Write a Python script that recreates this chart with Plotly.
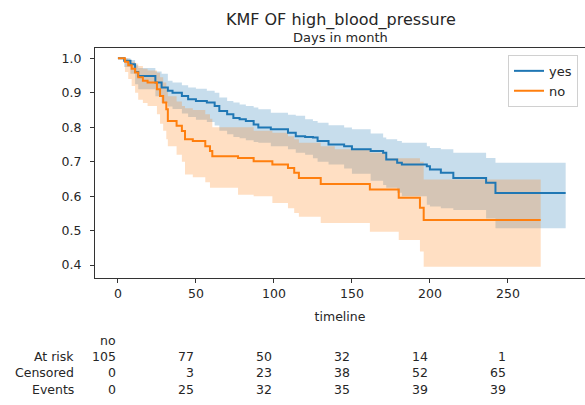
import plotly.graph_objects as go

# ---- data ----
yes_t = [0, 4, 8, 11, 13, 24, 28, 32, 35, 41, 45, 50, 57, 62, 65, 70, 74, 78, 82, 87, 90, 98,
         109, 114, 120, 125, 128, 135, 145, 150, 162, 170, 172, 179, 182, 198, 200, 207, 215,
         236, 242, 287]
yes_s = [1.0, 0.993, 0.983, 0.96, 0.949, 0.93, 0.915, 0.906, 0.90, 0.891, 0.881, 0.876, 0.872,
         0.862, 0.847, 0.838, 0.827, 0.823, 0.818, 0.808, 0.799, 0.794, 0.784, 0.774, 0.772,
         0.770, 0.76, 0.75, 0.745, 0.736, 0.731, 0.726, 0.706, 0.697, 0.692, 0.687, 0.677,
         0.668, 0.653, 0.639, 0.609, 0.609]
yes_lo = [1.0, 0.975, 0.955, 0.925, 0.91, 0.89, 0.87, 0.86, 0.853, 0.84, 0.83, 0.822, 0.815,
          0.805, 0.79, 0.78, 0.772, 0.768, 0.762, 0.757, 0.755, 0.745, 0.736, 0.726, 0.72,
          0.71, 0.70, 0.692, 0.68, 0.665, 0.645, 0.632, 0.624, 0.61, 0.60, 0.575, 0.57,
          0.565, 0.56, 0.535, 0.507, 0.507]
yes_hi = [1.0, 1.0, 0.995, 0.98, 0.972, 0.962, 0.955, 0.935, 0.93, 0.922, 0.915, 0.912, 0.906,
          0.90, 0.886, 0.876, 0.872, 0.866, 0.862, 0.857, 0.852, 0.842, 0.836, 0.833, 0.823,
          0.818, 0.813, 0.806, 0.799, 0.794, 0.782, 0.77, 0.765, 0.76, 0.755, 0.745, 0.74,
          0.736, 0.726, 0.711, 0.697, 0.697]

no_t = [0, 4.5, 6.6, 8.8, 11, 13, 16, 19, 25, 27, 29, 31, 32, 37.6, 41, 43, 48, 56, 59, 60.5,
        77, 87, 99, 109, 113, 116, 130, 139, 161.5, 172, 180, 193.6, 196, 271]
no_s = [1.0, 0.99, 0.98, 0.97, 0.959, 0.945, 0.935, 0.93, 0.91, 0.891, 0.872, 0.852, 0.818,
        0.804, 0.789, 0.765, 0.76, 0.745, 0.731, 0.716, 0.711, 0.701, 0.692, 0.682, 0.668,
        0.653, 0.635, 0.635, 0.619, 0.619, 0.595, 0.566, 0.531, 0.531]
no_lo = [1.0, 0.96, 0.94, 0.92, 0.90, 0.88, 0.87, 0.862, 0.838, 0.81, 0.79, 0.765, 0.745,
         0.72, 0.70, 0.663, 0.655, 0.64, 0.624, 0.624, 0.604, 0.60, 0.58, 0.565, 0.551,
         0.54, 0.522, 0.522, 0.497, 0.497, 0.473, 0.439, 0.395, 0.395]
no_hi = [1.0, 1.0, 0.995, 0.99, 0.985, 0.978, 0.97, 0.965, 0.958, 0.945, 0.93, 0.91, 0.89,
         0.875, 0.862, 0.855, 0.85, 0.838, 0.825, 0.80, 0.80, 0.79, 0.784, 0.774, 0.765,
         0.755, 0.745, 0.736, 0.726, 0.71, 0.71, 0.70, 0.648, 0.648]

table_ticks = [0, 50, 100, 150, 200, 250]
at_risk = [105, 77, 50, 32, 14, 1]
censored = [0, 3, 23, 38, 52, 65]
events = [0, 25, 32, 35, 39, 39]
row_labels = ["At risk", "Censored", "Events"]
y_ticks = [0.4, 0.5, 0.6, 0.7, 0.8, 0.9, 1.0]

BLUE = "#1f77b4"
ORANGE = "#ff7f0e"
FONT = "DejaVu Sans"
TXT = "#262626"

fig = go.Figure()

for t, lo, hi, rgba in [(yes_t, yes_lo, yes_hi, "rgba(31,119,180,0.25)"),
                        (no_t, no_lo, no_hi, "rgba(255,127,14,0.25)")]:
    fig.add_trace(go.Scatter(x=t, y=lo, mode="lines", line=dict(width=0, shape="hv"),
                             showlegend=False, hoverinfo="skip"))
    fig.add_trace(go.Scatter(x=t, y=hi, mode="lines", line=dict(width=0, shape="hv"),
                             fill="tonexty", fillcolor=rgba, showlegend=False, hoverinfo="skip"))

fig.add_trace(go.Scatter(x=yes_t, y=yes_s, mode="lines", name="yes",
                         line=dict(color=BLUE, width=2, shape="hv")))
fig.add_trace(go.Scatter(x=no_t, y=no_s, mode="lines", name="no",
                         line=dict(color=ORANGE, width=2, shape="hv")))

PLOT_H = 405 - 48 - 127

def py(pix):
    return (405 - 127 - pix) / PLOT_H

# at-risk table
rows_y = [py(356), py(372), py(389)]
fig.add_annotation(x=0, y=py(340), xref="x", yref="paper", text="no", showarrow=False,
                   xanchor="right", yanchor="middle", font=dict(size=12.5, color=TXT, family=FONT))
for lab, yy, vals in zip(row_labels, rows_y, [at_risk, censored, events]):
    fig.add_annotation(x=-0.039, y=yy, xref="paper", yref="paper", text=lab, showarrow=False,
                       xanchor="right", yanchor="middle",
                       font=dict(size=12.5, color=TXT, family=FONT))
    for tk, v in zip(table_ticks, vals):
        fig.add_annotation(x=tk, y=yy, xref="x", yref="paper", text=str(v), showarrow=False,
                           xanchor="right", yanchor="middle",
                           font=dict(size=12.5, color=TXT, family=FONT))

fig.add_annotation(x=0.5, y=py(37), xref="paper", yref="paper", yanchor="middle",
                   xanchor="center", text="Days in month", showarrow=False,
                   font=dict(size=13, color=TXT, family=FONT))

fig.update_layout(
    width=585, height=405,
    margin=dict(l=95, r=0, t=48, b=127),
    paper_bgcolor="white", plot_bgcolor="white",
    font=dict(family=FONT, size=12.5, color=TXT),
    title=dict(text="KMF OF high_blood_pressure", x=0.5826, xanchor="center",
               y=1 - 19 / 405, yanchor="middle", font=dict(size=16, color=TXT, family=FONT)),
    showlegend=True,
    legend=dict(x=0.9857, y=0.97, xanchor="right", yanchor="top", bgcolor="white",
                bordercolor="#d0d0d0", borderwidth=1, font=dict(size=13, color=TXT, family=FONT),
                tracegroupgap=0, itemwidth=30, traceorder="normal"),
    xaxis=dict(range=[-14.7, 299.4], tickvals=table_ticks, ticks="outside", ticklen=4,
               tickcolor="#333", showline=True, linecolor="#333", linewidth=1, mirror=True,
               showgrid=False, zeroline=False,
               title=dict(text="timeline", standoff=12, font=dict(size=12.5, color=TXT)),
               tickfont=dict(size=12.5, color=TXT)),
    yaxis=dict(range=[0.3624, 1.03], tickvals=y_ticks, tickformat=".1f", ticks="outside",
               ticklen=4, tickcolor="#333", showline=True, linecolor="#333", linewidth=1,
               mirror=True, showgrid=False, zeroline=False, ticklabelstandoff=6,
               tickfont=dict(size=12.5, color=TXT)),
)

fig.write_html("out.html")
